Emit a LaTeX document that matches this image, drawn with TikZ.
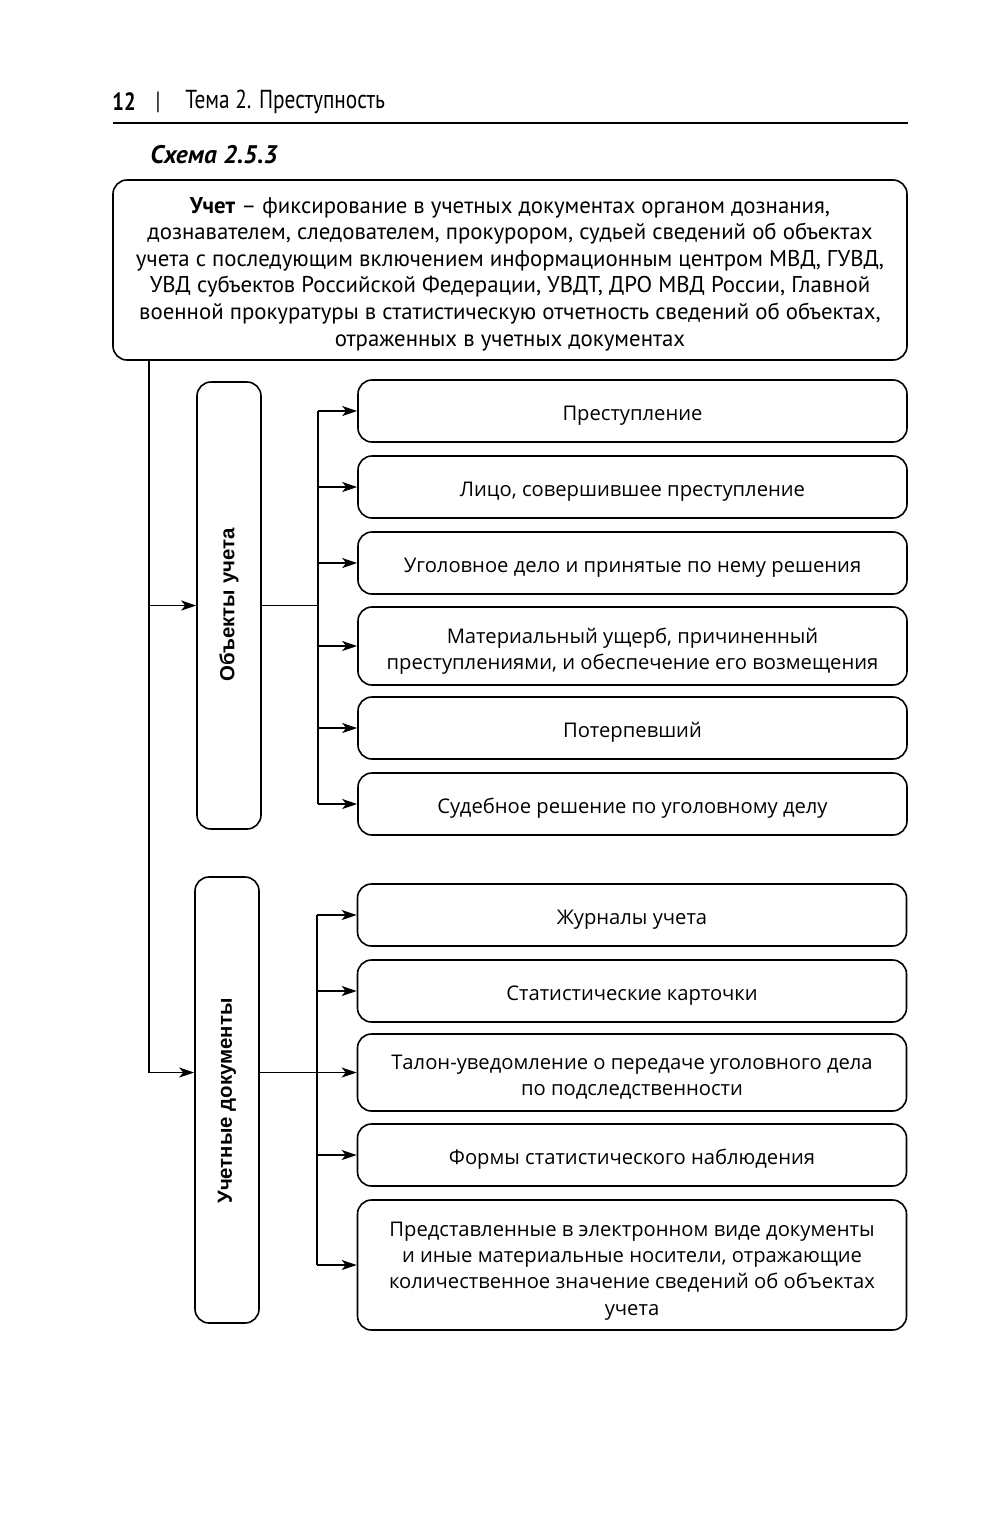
\documentclass[tikz,border=0pt]{standalone}
\usepackage{fontspec}
\setmainfont{Open Sans}
\newfontfamily\pts{PT Sans}
\newfontfamily\ptsn{PT Sans}[FakeStretch=0.82]
\newfontfamily\arial{Liberation Sans}
\usetikzlibrary{arrows.meta}
\newcommand{\upstrut}{\rule{0pt}{11.5pt}}
\begin{document}
\begin{tikzpicture}[x=0.5pt,y=-0.5pt,
  box/.style={draw, line width=0.8pt, rounded corners=7pt, inner sep=0pt, align=center,
    font=\fontsize{10.1}{13}\selectfont, execute at begin node=\upstrut},
  rbox/.style={box, minimum width=274.5pt, minimum height=31pt},
  mtext/.style={inner sep=0pt, align=center, font=\fontsize{10.1}{13.1}\selectfont, yshift=-2.5pt},
  vbox/.style={draw, line width=0.8pt, rounded corners=7pt, minimum width=32pt, minimum height=223pt},
  vlab/.style={rotate=90, font=\arial\bfseries\fontsize{10.2}{12}\selectfont},
  conn/.style={line width=0.7pt},
  arr/.style={conn, -{Stealth[length=7.5pt,width=5pt,inset=2pt]}}]
\useasboundingbox (0,0) rectangle (1000,1522);
% header
\node[anchor=west, font=\ptsn\bfseries\fontsize{12.5}{15}\selectfont, inner sep=0pt] (pg) at (112,102) {12};
\node[font=\ptsn\fontsize{12.5}{15}\selectfont, inner sep=0pt] (bar) at (158,102) {|};
\node[anchor=west, font=\ptsn\fontsize{13}{15}\selectfont, inner sep=0pt] (ttl) at (185,102) {Тема 2. Преступность};
\coordinate (rl) at (113,123);
\coordinate (rr) at (908,123);
\draw[line width=1pt] (rl) -- (rr);
\node[anchor=west, font=\pts\bfseries\itshape\fontsize{12.7}{15}\selectfont, inner sep=0pt] (sch) at (150,155) {Схема 2.5.3};
% top box
\node[draw, line width=0.8pt, rounded corners=7pt, minimum width=397pt, minimum height=90pt] (top) at (510,270) {};
\node[mtext, font=\pts\fontsize{11.4}{13.3}\selectfont, yshift=0.5pt] (topt) at (top.center)
 {\textbf{Учет} – фиксирование в учетных документах органом дознания,\\
 дознавателем, следователем, прокурором, судьей сведений об объектах\\
 учета с последующим включением информационным центром МВД, ГУВД,\\
 УВД субъектов Российской Федерации, УВДТ, ДРО МВД России, Главной\\
 военной прокуратуры в статистическую отчетность сведений об объектах,\\
 отраженных в учетных документах};
% vertical boxes
\node[vbox, minimum height=223.5pt] (obj) at (229,605.5) {};
\node[vlab] (objl) at (229,605) {Объекты учета};
\node[vbox] (doc) at (227,1100) {};
\node[vlab] (docl) at (227,1101) {Учетные документы};
% right boxes group 1
\node[rbox] (r1) at (632.5,411) {Преступление};
\node[rbox] (r2) at (632.5,487) {Лицо, совершившее преступление};
\node[rbox] (r3) at (632.5,563) {Уголовное дело и принятые по нему решения};
\node[rbox, minimum height=39pt] (r4) at (632.5,646) {};
\node[mtext] (r4t) at (r4.center) {Материальный ущерб, причиненный\\преступлениями, и обеспечение его возмещения};
\node[rbox] (r5) at (632.5,728) {Потерпевший};
\node[rbox] (r6) at (632.5,804) {Судебное решение по уголовному делу};
% right boxes group 2
\node[rbox] (d1) at (632,915) {Журналы учета};
\node[rbox] (d2) at (632,991) {Статистические карточки};
\node[rbox, minimum height=38.5pt] (d3) at (632,1072.5) {};
\node[mtext] (d3t) at (d3.center) {Талон-уведомление о передаче уголовного дела\\по подследственности};
\node[rbox] (d4) at (632,1155) {Формы статистического наблюдения};
\node[rbox, minimum height=65pt] (d5) at (632,1265) {};
\node[mtext, yshift=-0.5pt] (d5t) at (d5.center) {Представленные в электронном виде документы\\и иные материальные носители, отражающие\\количественное значение сведений об объектах\\учета};
% connectors
\coordinate (L) at (149,0);
\coordinate (B1) at (318,0);
\coordinate (B2) at (317,0);
\draw[conn] (top.south -| L) -- (d3.west -| L);
\draw[arr] (obj.west -| L) -- (obj.west);
\draw[arr] (d3.west -| L) -- (d3.west -| doc.west);
\draw[conn] (obj.east) -- (obj.east -| B1);
\draw[conn] (r1.west -| B1) -- (r6.west -| B1);
\foreach \n in {r1,r2,r3,r4,r5,r6} \draw[arr] (\n.west -| B1) -- (\n.west);
\draw[conn] (d3.west -| doc.east) -- (d3.west -| B2);
\draw[conn] (d1.west -| B2) -- (d5.west -| B2);
\foreach \n in {d1,d2,d3,d4,d5} \draw[arr] (\n.west -| B2) -- (\n.west);
\end{tikzpicture}
\end{document}
